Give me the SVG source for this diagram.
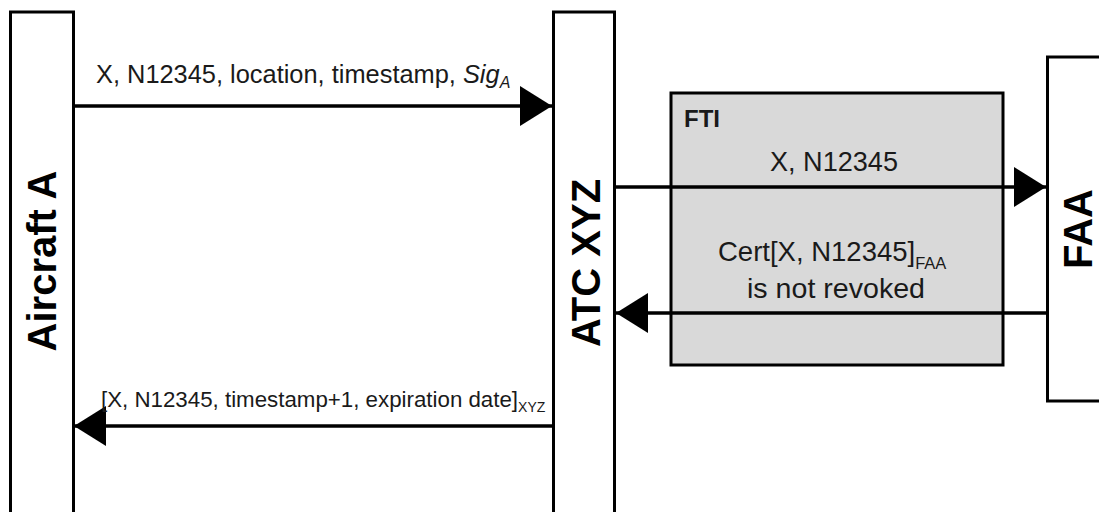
<svg xmlns="http://www.w3.org/2000/svg" width="1099" height="512" viewBox="0 0 1099 512">
<style>
.box{fill:#fff;stroke:#000;stroke-width:3}
.fti{fill:#d9d9d9;stroke:#000;stroke-width:3}
.conn{stroke:#000;stroke-width:3.5;fill:none}
.lbl{font-family:"Liberation Sans",Arial,sans-serif;fill:#1a1a1a}
.big{font-family:"Liberation Sans",Arial,sans-serif;font-weight:bold;font-size:40px;fill:#000;text-anchor:middle}
</style>
<defs>
<marker id="ah" markerUnits="userSpaceOnUse" markerWidth="32" markerHeight="40" refX="32" refY="20" orient="auto" viewBox="0 0 32 40">
<path d="M0,0 L32,20 L0,40 Z" fill="#000"/>
</marker>
</defs>
<rect width="1099" height="512" fill="#fff"/>
<g id="aircraft">
<rect class="box" x="10.5" y="12" width="63" height="510"/>
<text class="big" transform="translate(56,261) rotate(-90)">Aircraft A</text>
</g>
<g id="atc">
<rect class="box" x="553.5" y="12" width="61" height="510"/>
<text class="big" transform="translate(600,263) rotate(-90)">ATC XYZ</text>
</g>
<g id="fti">
<rect class="fti" x="671" y="93" width="332" height="272"/>
<text class="lbl" x="684" y="127" font-size="24" font-weight="bold" fill="#000">FTI</text>
</g>
<g id="faa">
<rect class="box" x="1047.5" y="57" width="60" height="344"/>
<text class="big" transform="translate(1092,229) rotate(-90)">FAA</text>
</g>
<g id="connectors">
<line class="conn" x1="74" y1="106" x2="552" y2="106" marker-end="url(#ah)"/>
<line class="conn" x1="615" y1="187" x2="1046" y2="187" marker-end="url(#ah)"/>
<line class="conn" x1="1046" y1="313" x2="616" y2="313" marker-end="url(#ah)"/>
<line class="conn" x1="553" y1="426" x2="74" y2="426" marker-end="url(#ah)"/>
</g>
<g id="labels">
<text class="lbl" x="96" y="83" font-size="25.4">X, N12345, location, timestamp, <tspan font-style="italic">Sig</tspan><tspan font-style="italic" font-size="16" dy="5">A</tspan></text>
<text class="lbl" x="770" y="171" font-size="27" textLength="128" lengthAdjust="spacingAndGlyphs">X, N12345</text>
<text class="lbl" x="718" y="261" font-size="27.5">Cert[X, N12345]<tspan font-size="16.5" dy="8">FAA</tspan></text>
<text class="lbl" x="747" y="298" font-size="28" textLength="178" lengthAdjust="spacingAndGlyphs">is not revoked</text>
<text class="lbl" x="101" y="407" font-size="22.3">[X, N12345, timestamp+1, expiration date]<tspan font-size="14" dy="5">XYZ</tspan></text>
</g>
</svg>
